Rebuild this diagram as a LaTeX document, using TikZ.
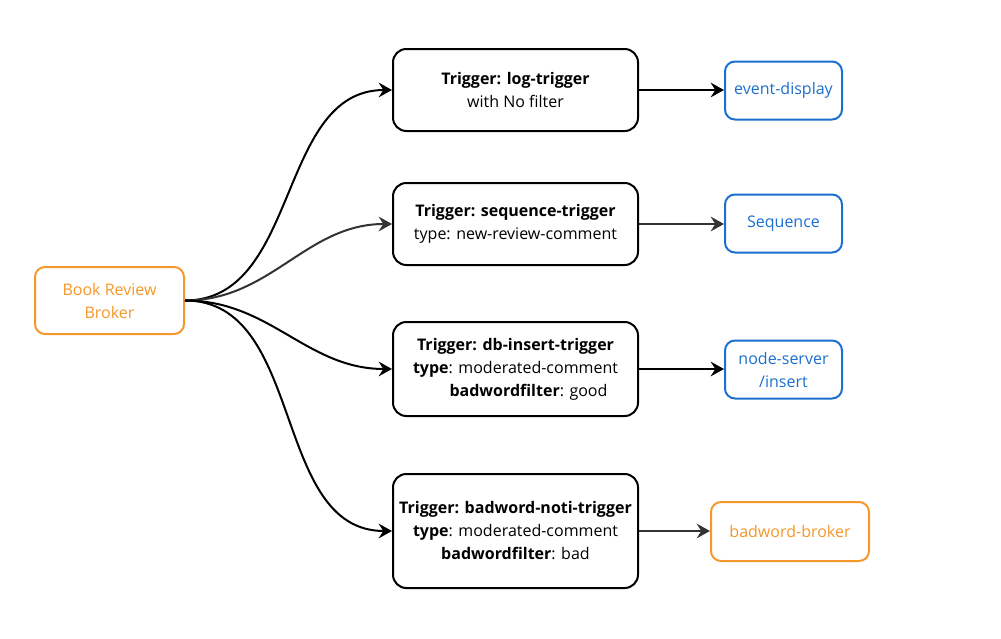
\documentclass[tikz,border=0pt]{standalone}
\usepackage{fontspec}
\setmainfont{Open Sans}
\usetikzlibrary{arrows.meta}
\definecolor{bcolor}{HTML}{1A6FCF}
\definecolor{ocolor}{HTML}{F5972A}
\definecolor{gcolor}{HTML}{333333}

\begin{document}
\begin{tikzpicture}[x=0.75pt, y=-0.75pt,
    trig/.style={rectangle, draw, rounded corners=10pt, minimum width=183.75pt, inner xsep=2pt, align=center, font=\fontsize{12}{17.25}\selectfont, line width=1.5pt},
    sink/.style={rectangle, draw=bcolor, text=bcolor, rounded corners=7.5pt, minimum width=87.75pt, minimum height=43.5pt, inner xsep=2pt, align=center, font=\fontsize{12}{17.25}\selectfont, line width=1.5pt},
    arr/.style={-{Stealth[length=10pt, width=11pt, inset=3.5pt]}, line width=1.5pt},
  ]
    \useasboundingbox (0,0) rectangle (1001,639);

    \node[sink, draw=ocolor, text=ocolor, minimum width=111.75pt, minimum height=50.25pt] (broker) at (109.5,300.5) {Book Review\\Broker};

    \node[trig, minimum height=61.5pt] (log) at (515.5,90) {\textbf{Trigger: log-trigger}\\with No filter};
    \node[trig, minimum height=61.5pt] (seq) at (515.5,224) {\textbf{Trigger: sequence-trigger}\\type: new-review-comment};
    \node[trig, minimum height=70.5pt] (dbins) at (515.5,369) {\textbf{Trigger: db-insert-trigger}\\\textbf{type}: moderated-comment\\\hspace*{19.5pt}\textbf{badwordfilter}: good};
    \node[trig, minimum height=85.5pt] (noti) at (515.5,531) {\textbf{Trigger: badword-noti-trigger}\\\textbf{type}: moderated-comment\\\textbf{badwordfilter}: bad};

    \node[sink] (display) at (783.5,90.5) {event-display};
    \node[sink] (sequence) at (783.5,223.5) {Sequence};
    \node[sink] (server) at (783.5,369.5) {node-server\\/insert};
    \node[sink, draw=ocolor, text=ocolor, minimum width=118.5pt, minimum height=44.25pt] (badbroker) at (790,531.5) {badword-broker};

    % broker to triggers
    \draw[arr] (broker.east) to[out=0, in=180] (log.west);
    \draw[arr, gcolor] (broker.east) to[out=0, in=180] (seq.west);
    \draw[arr] (broker.east) to[out=0, in=180] (dbins.west);
    \draw[arr] (broker.east) to[out=0, in=180] (noti.west);

    % triggers to subscribers
    \draw[arr] (log.east) -- (log.east -| display.west);
    \draw[arr, gcolor] (seq.east) -- (seq.east -| sequence.west);
    \draw[arr] (dbins.east) -- (dbins.east -| server.west);
    \draw[arr, gcolor] (noti.east) -- (noti.east -| badbroker.west);
  \end{tikzpicture}
\end{document}
